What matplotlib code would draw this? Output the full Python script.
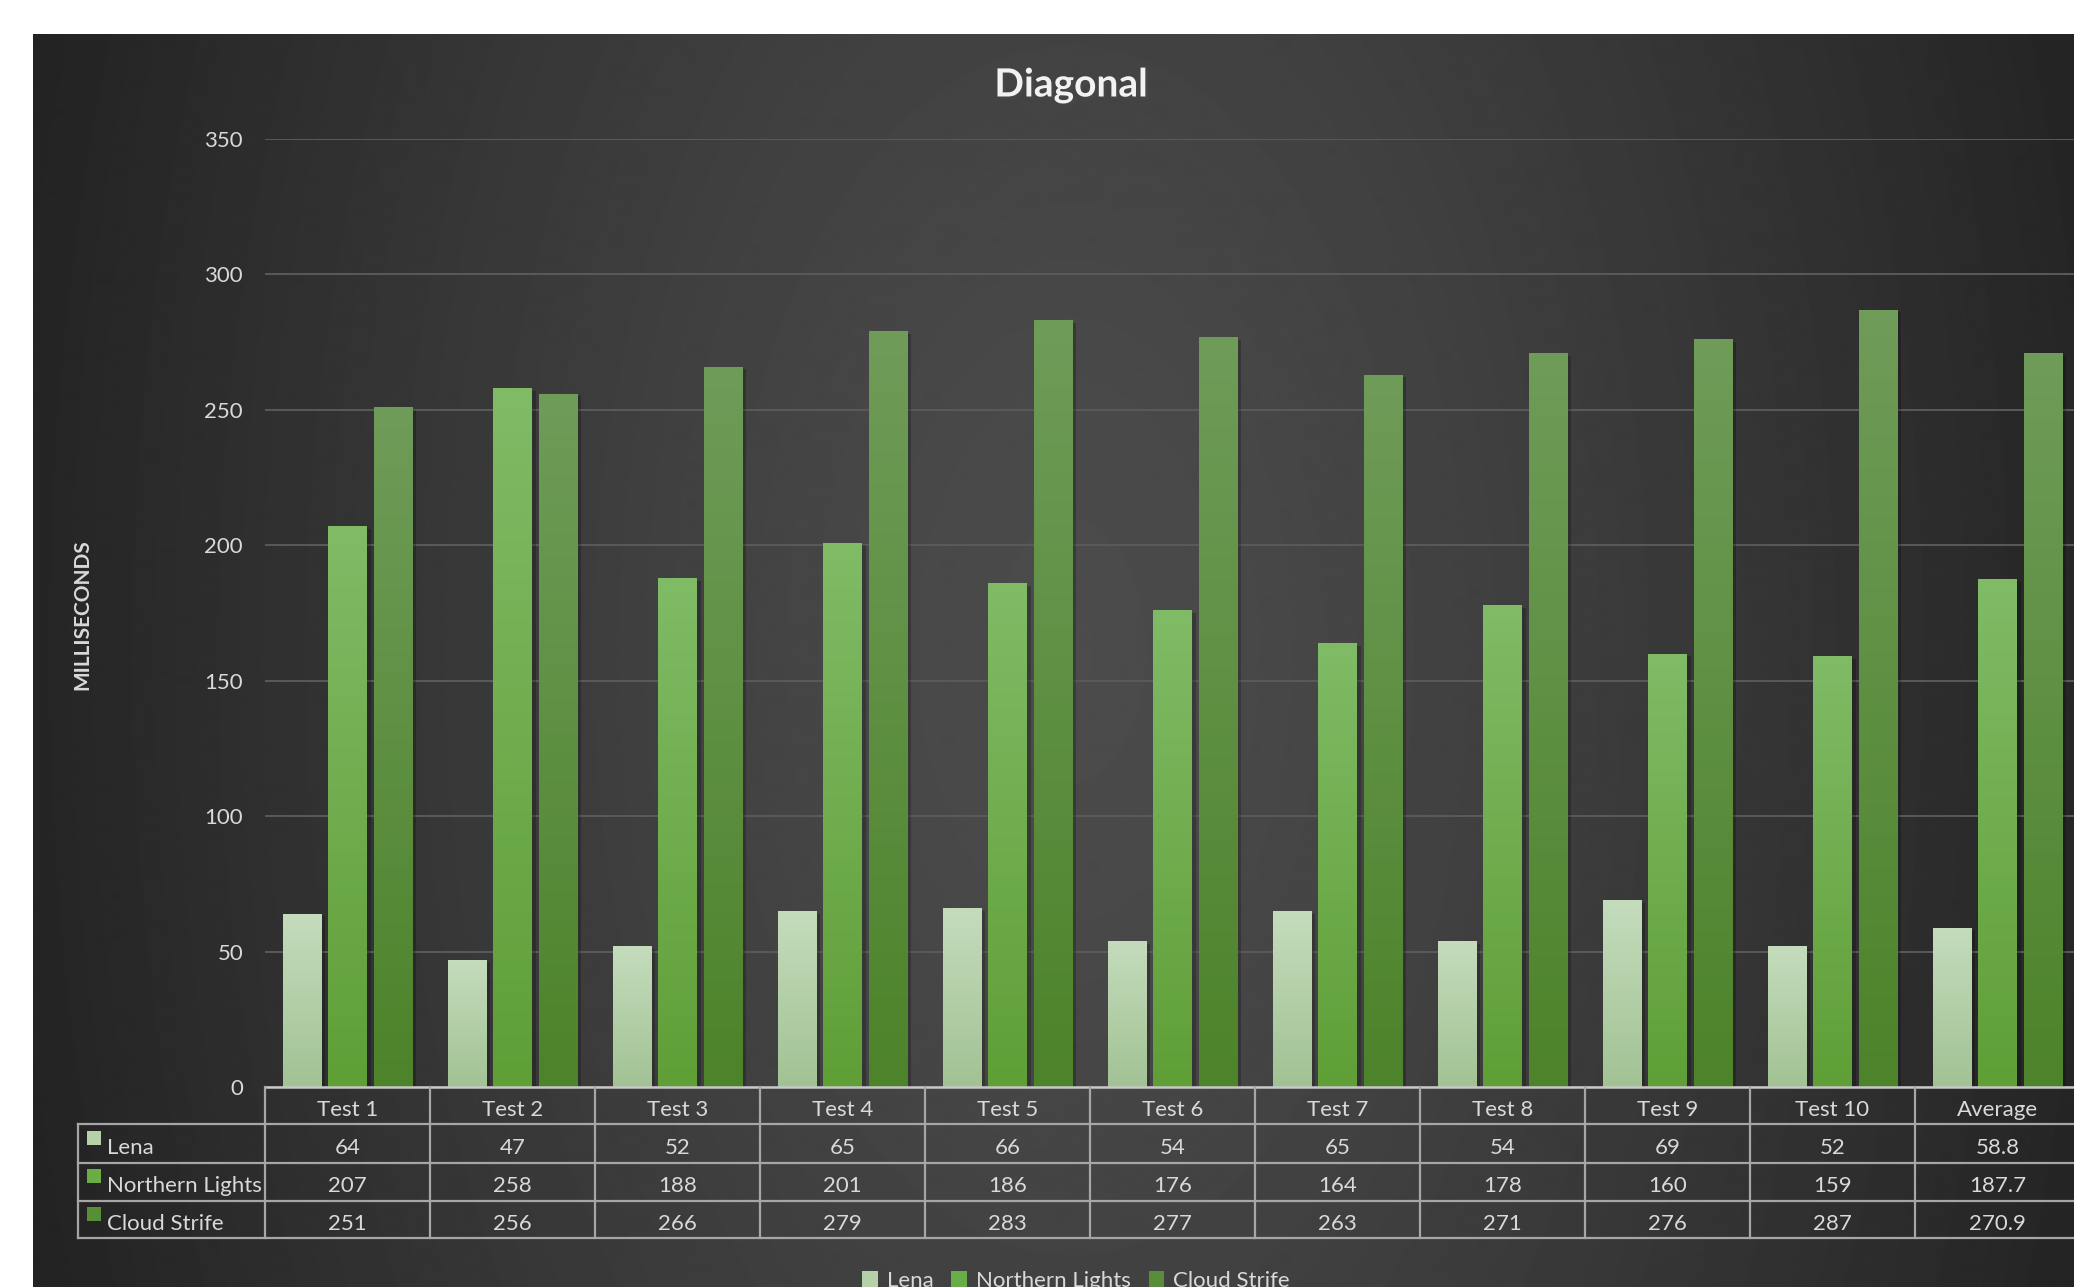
import numpy as np
import matplotlib
matplotlib.use('Agg')
import matplotlib.pyplot as plt
from matplotlib.colors import LinearSegmentedColormap
from matplotlib.patches import Rectangle
from matplotlib.lines import Line2D
import matplotlib.patheffects as pe
import matplotlib.transforms as mtrans

# ---------------- data ----------------
categories = ['Test 1', 'Test 2', 'Test 3', 'Test 4', 'Test 5', 'Test 6',
              'Test 7', 'Test 8', 'Test 9', 'Test 10', 'Average']
series_names = ['Lena', 'Northern Lights', 'Cloud Strife']
lena = [64, 47, 52, 65, 66, 54, 65, 54, 69, 52, 58.8]
northern_lights = [207, 258, 188, 201, 186, 176, 164, 178, 160, 159, 187.7]
cloud_strife = [251, 256, 266, 279, 283, 277, 263, 271, 276, 287, 270.9]
y_ticks = [0, 50, 100, 150, 200, 250, 300, 350]
title = 'Diagonal'
y_label = 'MILLISECONDS'

# ---------------- style ----------------
plt.rcParams['font.family'] = ['Lato', 'DejaVu Sans']
W, H = 2074, 1287
TXT = '#d9d9d9'
grad_top = ['#c4dcbc', '#80bb66', '#6f9c59']
grad_bot = ['#a2c294', '#5f9f36', '#4d832a']
key_cols = ['#b4d1a8', '#6aad45', '#588e38']


def fx(px):
    return px / W


def fy(py):
    return 1 - py / H


fig = plt.figure(figsize=(W / 100, H / 100), dpi=100, facecolor='white')

# background radial-ish gradient
bg = fig.add_axes([0, 0, 1, 1], zorder=0)
bg.set_xlim(0, W)
bg.set_ylim(H, 0)
bg.axis('off')
yy, xx = np.mgrid[34:H:2, 33:W:2]
v = np.sqrt(((xx - 1070) / 1080.0) ** 2 + ((yy - 650) / 1900.0) ** 2)
v = np.clip(v, 0, 1) ** 1.3
c0, c1 = 0x4c / 255, 0x23 / 255
img = c0 + (c1 - c0) * v
bg.imshow(img, cmap='gray', vmin=0, vmax=1, extent=(33, W, H, 34),
          interpolation='bilinear', aspect='auto')

# main axes
ax = fig.add_axes([fx(265), fy(1087), (2080 - 265) / W, (1087 - 139) / H], zorder=1)
ax.patch.set_alpha(0)
x = np.arange(len(categories))
offsets = [-0.275, 0.0, 0.275]
width = 0.232
all_series = [lena, northern_lights, cloud_strife]
grad = np.linspace(1, 0, 256).reshape(-1, 1)
for i, vals in enumerate(all_series):
    cmap = LinearSegmentedColormap.from_list('g%d' % i, [grad_bot[i], grad_top[i]])
    bars = ax.bar(x + offsets[i], vals, width, color=grad_bot[i], zorder=3,
                  path_effects=[pe.SimplePatchShadow(offset=(3, -2), shadow_rgbFace='black', alpha=0.22),
                                pe.Normal()])
    for p in bars:
        x0 = p.get_x()
        im = ax.imshow(grad, cmap=cmap, vmin=0, vmax=1, aspect='auto',
                       extent=(x0, x0 + p.get_width(), 0, p.get_height()),
                       zorder=4, interpolation='bilinear')
        im.set_clip_path(p)

ax.set_xlim(-0.5, len(categories) - 0.5)
ax.set_ylim(0, 350)
ax.set_yticks(y_ticks)
ax.set_xticks([])
ax.yaxis.grid(True, color='#5a5a5a', lw=1.4)
ax.set_axisbelow(True)
for s in ax.spines.values():
    s.set_visible(False)
ax.tick_params(axis='y', length=0, pad=15.8, labelsize=16, labelcolor=TXT)

# title and axis label
fig.text(fx(1071), fy(85), title, fontsize=28, fontweight='bold', color='#f2f2f2',
         ha='center', va='center',
         path_effects=[pe.withSimplePatchShadow(offset=(2, -2), alpha=0.6)])
fig.text(fx(82), fy(615), y_label, rotation=90, fontsize=15, fontweight='bold',
         color=TXT, ha='center', va='center')

# ---------------- data table ----------------
trans = mtrans.blended_transform_factory(ax.transData, fig.transFigure)
LINE = '#a6a6a6'
row_edges = [1087, 1124, 1163, 1201, 1238]
# axis line / table top
fig.add_artist(Line2D([-0.5, len(categories) - 0.5], [fy(1087), fy(1087)], transform=trans,
                      color='#c8c8c8', lw=1.8, zorder=5))
for ry in row_edges[1:]:
    fig.add_artist(Line2D([fx(78), fx(2085)], [fy(ry), fy(ry)], transform=fig.transFigure,
                          color=LINE, lw=1.6, zorder=5))
for k in range(len(categories) + 1):
    fig.add_artist(Line2D([k - 0.5, k - 0.5], [fy(1087), fy(1238)], transform=trans,
                          color=LINE, lw=1.6, zorder=5))
fig.add_artist(Line2D([fx(78), fx(78)], [fy(1124), fy(1238)], transform=fig.transFigure,
                      color=LINE, lw=1.6, zorder=5))


def fmt(val):
    return ('%d' % val) if float(val).is_integer() else ('%.1f' % val)


for j, cat in enumerate(categories):
    fig.text(j, fy(1110), cat, transform=trans, ha='center', va='center',
             fontsize=16, color=TXT, zorder=6)
row_centers = [1147.5, 1186, 1223.5]
for i, vals in enumerate(all_series):
    for j, val in enumerate(vals):
        fig.text(j, fy(row_centers[i]), fmt(val), transform=trans, ha='center', va='center',
                 fontsize=16, color=TXT, zorder=6)
    fig.add_artist(Rectangle((fx(87), fy(row_centers[i] - 3)), 14 / W, 14 / H,
                             transform=fig.transFigure, facecolor=key_cols[i],
                             edgecolor='none', zorder=6))
    fig.text(fx(107), fy(row_centers[i]), series_names[i], ha='left', va='center',
             fontsize=16, color=TXT, zorder=6)

# legend
handles = [Rectangle((0, 0), 1, 1, facecolor=c, edgecolor='none') for c in key_cols]
leg = fig.legend(handles, series_names, loc='center', bbox_to_anchor=(fx(1076), fy(1281)),
                 ncol=3, frameon=False, fontsize=16, labelcolor=TXT,
                 handlelength=0.7, handleheight=0.7, handletextpad=0.4, columnspacing=0.8)

fig.savefig('out.png', dpi=100, facecolor='white')
